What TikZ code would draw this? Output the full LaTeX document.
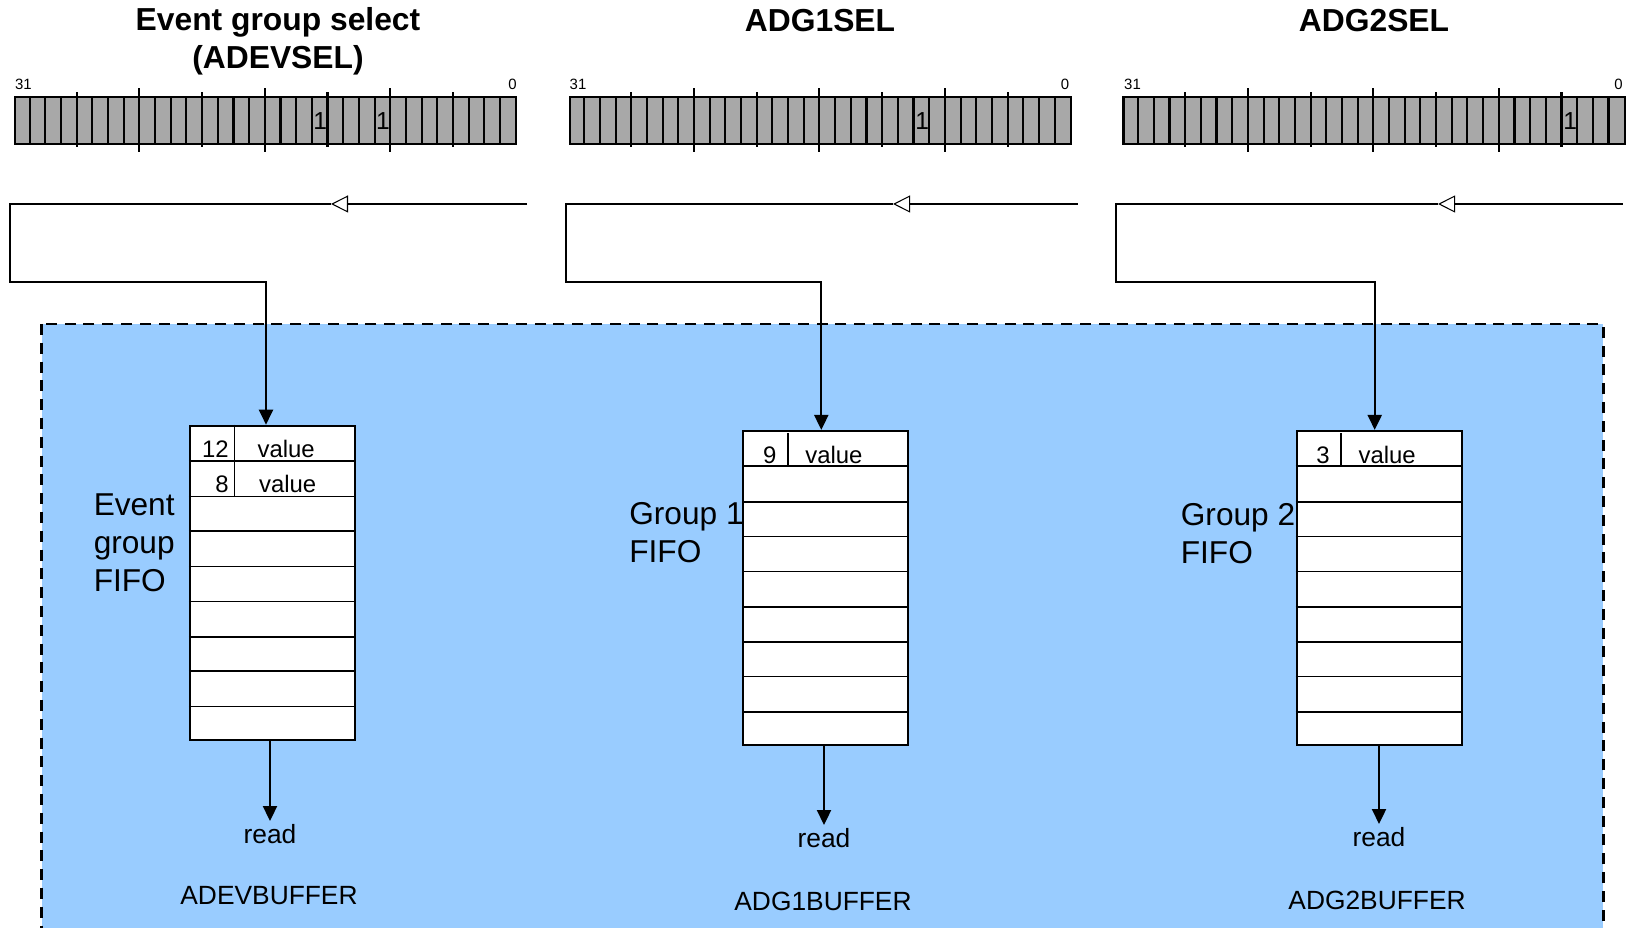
\documentclass[tikz,border=0pt]{standalone}
\usepackage{fontspec}
\setmainfont{Liberation Sans}
\usetikzlibrary{arrows.meta,positioning}
\definecolor{fifoblue}{HTML}{99CCFF}
\definecolor{reggray}{HTML}{A8A8A8}

\begin{document}
\begin{tikzpicture}[
  x=0.02cm, y=-0.02cm,
  title/.style={font=\bfseries\fontsize{18.1}{21.4}\selectfont, align=center},
  reg/.style={draw, line width=1.2pt, fill=reggray, minimum width=10.03cm, minimum height=0.94cm, inner sep=0},
  cell/.style={line width=1.2pt},
  tick/.style={line width=1.2pt},
  bitnum/.style={font=\fontsize{8.5}{10}\selectfont, inner sep=0},
  setbit/.style={font=\fontsize{14}{16}\selectfont, inner sep=0},
  fifo/.style={draw, line width=1.2pt, fill=white, minimum width=3.3cm, minimum height=6.28cm, inner sep=0},
  row/.style={line width=0.9pt},
  entry/.style={font=\fontsize{13.6}{15}\selectfont, inner sep=0},
  side/.style={font=\fontsize{18}{21.6}\selectfont, align=left, inner sep=0},
  lbl/.style={font=\fontsize{15}{18}\selectfont, inner sep=1.7pt},
  wire/.style={line width=1.1pt},
  >={Triangle[length=8.5pt, width=8pt]}
]
\useasboundingbox (0,0) rectangle (1628,928);
\clip (0,0) rectangle (1628,928);

% event group area
\draw[fill=fifoblue, line width=1.6pt, dash pattern=on 6.3pt off 4.4pt] (41.5,324) rectangle (1603.3,960);

% select registers
\node[title] (t0) at (278,41.5) {Event group select\\(ADEVSEL)};
\node[title] (t1) at (820,21) {ADG1SEL};
\node[title] (t2) at (1374,21) {ADG2SEL};

\node[reg] (reg1) at (265.7,120.8) {};
\node[reg] (reg2) at (820.3,120.8) {};
\node[reg] (reg3) at (1374.2,120.8) {};

\foreach \r in {reg1, reg2, reg3} {
  \foreach \i in {1,...,31}
    \draw[cell] (\r.north west) ++(\i*15.68,0) -- ++(0,47);
  \foreach \i in {4,12,20,28}
    \draw[tick] (\r.north west) ++(\i*15.68,-4) -- ++(0,55);
  \foreach \i in {8,16,24}
    \draw[tick] (\r.north west) ++(\i*15.68,-8) -- ++(0,64);
}

\node[bitnum] (hi1) at (23.4,84) {31};
\node[bitnum] (lo1) at (512.5,84) {0};
\node[bitnum] (hi2) at (578,84) {31};
\node[bitnum] (lo2) at (1065,84) {0};
\node[bitnum] (hi3) at (1132.5,84) {31};
\node[bitnum] (lo3) at (1618.5,84) {0};

\node[setbit] (b12) at (320.3,120.8) {1};
\node[setbit] (b8) at (383,120.8) {1};
\node[setbit] (g9) at (922.3,120.8) {1};
\node[setbit] (h3) at (1570.2,120.8) {1};

% feedback wires
\coordinate (in1) at (527,204);
\coordinate (mid1) at (331,204);
\coordinate (turn1) at (10,282);
\coordinate (drop1) at (266,282);
\coordinate (in2) at (1077.8,204);
\coordinate (mid2) at (893,204);
\coordinate (turn2) at (565.9,282);
\coordinate (drop2) at (821.3,282);
\coordinate (in3) at (1622.7,204);
\coordinate (mid3) at (1438,204);
\coordinate (turn3) at (1116.2,282);
\coordinate (drop3) at (1374.7,282);

% fifos
\node[fifo] (fifo1) at (272.5,582.7) {};
\node[fifo] (fifo2) at (825.8,587.9) {};
\node[fifo] (fifo3) at (1379.2,587.9) {};

\foreach \k in {36.3,72,106.5,141.8,177,212.3,246.6,281.9} {
  \draw[row] (fifo1.north west) ++(0,\k) -- ++(165,0);
  \draw[row] (fifo2.north west) ++(0,\k) -- ++(165,0);
  \draw[row] (fifo3.north west) ++(0,\k) -- ++(165,0);
}
\draw[row] (fifo1.north west) ++(45.7,0) -- ++(0,72);
\draw[row] (fifo2.north west) ++(46,3.3) -- ++(0,33);
\draw[row] (fifo3.north west) ++(45.6,3.3) -- ++(0,33);

\foreach \f/\s in {1/in1, 2/in2, 3/in3} {
  \draw[wire, -{Triangle[open, fill=white, length=9.7pt, width=9.7pt, line width=0.6pt]}] (\s) -- (mid\f);
  \draw[wire, ->] (mid\f) -| (turn\f) -- (drop\f) -- (drop\f |- fifo\f.north);
}

\node[entry, anchor=base east] (n12) at (229,457.5) {12};
\node[entry, anchor=base west] (v12) at (257.3,457.5) {value};
\node[entry, anchor=base east] (n8) at (229,493) {8};
\node[entry, anchor=base west] (v8) at (258.7,493) {value};
\node[entry, anchor=base east] (n9) at (776.7,463.5) {9};
\node[entry, anchor=base west] (v9) at (805,463.5) {value};
\node[entry, anchor=base east] (n3) at (1330,463.5) {3};
\node[entry, anchor=base west] (v3) at (1358.3,463.5) {value};

\node[side, anchor=west] (side1) at (93.4,543) {Event\\group\\FIFO};
\node[side, anchor=west] (side2) at (629,532.5) {Group 1\\FIFO};
\node[side, anchor=west] (side3) at (1180.5,533.5) {Group 2\\FIFO};

% read outputs
\node[lbl] (read1) at (270,834) {read};
\node[lbl] (read2) at (824,838) {read};
\node[lbl] (read3) at (1379,837) {read};
\foreach \f in {1,2,3}
  \draw[wire, ->] (fifo\f.south -| read\f) -- (read\f.north);

\node[lbl] (buf1) at (269,896) {ADEVBUFFER};
\node[lbl] (buf2) at (823,901) {ADG1BUFFER};
\node[lbl] (buf3) at (1377,900) {ADG2BUFFER};
\end{tikzpicture}
\end{document}
